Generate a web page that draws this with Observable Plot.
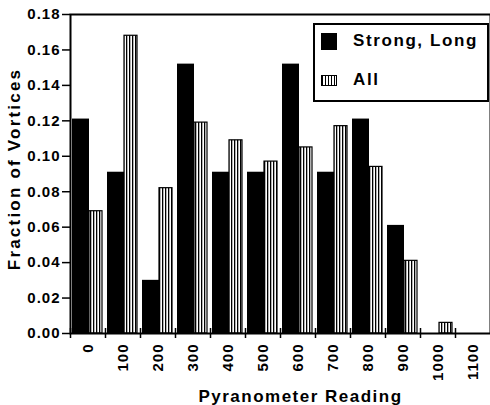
<!DOCTYPE html>
<html><head><meta charset="utf-8">
<script src="https://cdn.jsdelivr.net/npm/d3@7"></script>
<script src="https://cdn.jsdelivr.net/npm/@observablehq/plot@0.6"></script>
<style>
body{margin:0;background:#fff;}
#wrap{position:relative;width:490px;height:405px;font-family:"Liberation Sans",Arial,sans-serif;font-weight:bold;color:#000;}
#legend{position:absolute;left:313px;top:23px;width:172px;height:75px;border:2px solid #000;background:#fff;}
.li{position:absolute;left:6px;display:flex;align-items:center;font-size:17px;letter-spacing:1.6px;}
.sw{width:16px;margin-right:16px;}
.sw.black{height:17px;background:#000;}
.sw.hatch{height:11px;box-sizing:border-box;border:1px solid #000;background:repeating-linear-gradient(90deg,#000 0 1px,#fff 1px 3px);}
svg text{letter-spacing:1px;}
</style></head><body><div id="wrap"></div>
<script>
const bins = ["0","100","200","300","400","500","600","700","800","900","1000","1100"];
const seriesNames = ["Strong, Long","All"];
const strongLong = [0.121,0.091,0.030,0.152,0.091,0.091,0.152,0.091,0.121,0.061,0,0];
const allVortices = [0.069,0.168,0.082,0.119,0.109,0.097,0.105,0.117,0.094,0.041,0.006,0];
const yTicks = [0,0.02,0.04,0.06,0.08,0.10,0.12,0.14,0.16,0.18];

const strongData = bins.map((b,i)=>({bin:b, series:seriesNames[0], value:strongLong[i]}));
const allData = bins.map((b,i)=>({bin:b, series:seriesNames[1], value:allVortices[i]}));
const fmt = d3.format(".2f");

const chart = Plot.plot({
  width:490, height:405,
  marginLeft:70, marginRight:0, marginTop:14, marginBottom:72,
  style:{fontFamily:'"Liberation Sans",Arial,sans-serif', fontWeight:"bold", fontSize:"15px", color:"black", background:"white", overflow:"visible"},
  x:{domain:bins, padding:0, label:null},
  y:{domain:[0,0.18], label:null},
  marks:[
    Plot.barY(strongData, {x:"bin", y:"value", fill:"black", insetLeft:2, insetRight:16}),
    Plot.barY(allData, {x:"bin", y:"value", fill:"url(#hatch)", stroke:"black", strokeWidth:1.2, insetLeft:19, insetRight:3}),
    Plot.frame({stroke:"black", strokeWidth:2}),
    Plot.axisY({ticks:yTicks, tickFormat:fmt, tickSize:8, tickPadding:2, strokeWidth:1.5,
      label:"Fraction of Vortices", labelAnchor:"center", labelOffset:63, labelArrow:"none"}),
    Plot.axisX({text:null, tickSize:10, dy:-5, dx:-17.5, strokeWidth:1.5, label:null}),
    Plot.axisX({tickSize:0, tickPadding:10, tickRotate:-90,
      label:"Pyranometer Reading", labelAnchor:"center", labelOffset:68, labelArrow:"none"})
  ]
});

const svg = d3.select(chart);
const defs = svg.insert("defs", ":first-child");
const pat = defs.append("pattern").attr("id","hatch").attr("patternUnits","userSpaceOnUse").attr("width",3).attr("height",3);
pat.append("rect").attr("width",3).attr("height",3).attr("fill","white");
pat.append("rect").attr("width",1.3).attr("height",3).attr("fill","black");

const wrap = document.getElementById("wrap");
wrap.appendChild(chart);

svg.selectAll('g[aria-label="x-axis label"] text')
  .style("font-size","17px").style("letter-spacing","1.5px");
svg.selectAll('g[aria-label="y-axis label"] text')
  .style("font-size","17px").style("letter-spacing","2.2px");
const xl = svg.select('g[aria-label="x-axis label"]');
if (!xl.empty()) xl.attr("transform", "translate(20,0) " + (xl.attr("transform") || ""));
const yl = svg.select('g[aria-label="y-axis label"]');
if (!yl.empty()) yl.attr("transform", "translate(0,-5) " + (yl.attr("transform") || ""));

const legend = document.createElement("div");
legend.id = "legend";
legend.innerHTML = `<div class="li" style="top:6px"><div class="sw black"></div><span>${seriesNames[0]}</span></div>
<div class="li" style="top:45px"><div class="sw hatch"></div><span>${seriesNames[1]}</span></div>`;
wrap.appendChild(legend);
</script></body></html>
